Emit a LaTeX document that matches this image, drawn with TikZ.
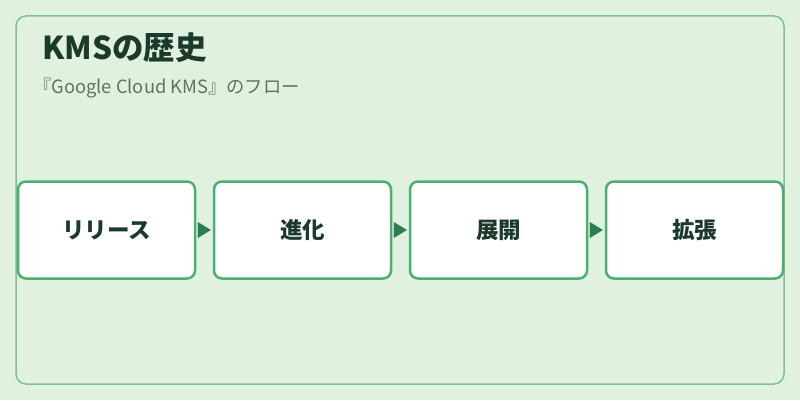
\documentclass[tikz,border=0pt]{standalone}
\usepackage{fontspec}
\setmainfont{Noto Sans CJK JP}
\usetikzlibrary{arrows.meta, positioning}

\definecolor{pagebg}{HTML}{E0F2DF}
\definecolor{framegreen}{HTML}{7FBF92}
\definecolor{boxgreen}{HTML}{4CAF72}
\definecolor{arrowgreen}{HTML}{2E7D4F}
\definecolor{titlegreen}{HTML}{1C3A2C}
\definecolor{subgray}{HTML}{5C7463}

\begin{document}
\begin{tikzpicture}[x=1pt, y=1pt, node distance=196pt, on grid,
    stage/.style={draw=boxgreen, line width=2.5pt, fill=white, rounded corners=8pt,
                  minimum width=177pt, minimum height=97pt, inner sep=0pt,
                  font=\fontsize{22.5}{26}\selectfont\bfseries, text=titlegreen},
    flow/.style={draw=arrowgreen, line width=0.1pt, shorten <=2pt, shorten >=2pt,
                 -{Triangle[length=13pt, width=16pt, fill=arrowgreen]}}]
    % page and frame
    \useasboundingbox (0,0) rectangle (800,400);
    \fill[pagebg] (0,0) rectangle (800,400);
    \draw[framegreen, line width=1.5pt, rounded corners=10pt] (16,16) rectangle (784,384);
    % headings
    \node[anchor=base west, inner sep=0pt, text=titlegreen,
          font=\fontsize{31.5}{36}\selectfont\bfseries] (title) at (42,341) {KMSの歴史};
    \node[anchor=base west, inner sep=0pt, text=subgray,
          font=\fontsize{18.3}{22}\selectfont] (subtitle) at (33,307) {『Google Cloud KMS』のフロー};
    % steps
    \node[stage] (release) at (106.5,170) {\raisebox{-3pt}{リリース}};
    \node[stage] (evolve) [right=of release] {\raisebox{-3pt}{進化}};
    \node[stage] (deploy) [right=of evolve] {\raisebox{-3pt}{展開}};
    \node[stage] (expand) [right=of deploy] {\raisebox{-3pt}{拡張}};
    \draw[flow] (release) -- (evolve);
    \draw[flow] (evolve) -- (deploy);
    \draw[flow] (deploy) -- (expand);
\end{tikzpicture}
\end{document}
